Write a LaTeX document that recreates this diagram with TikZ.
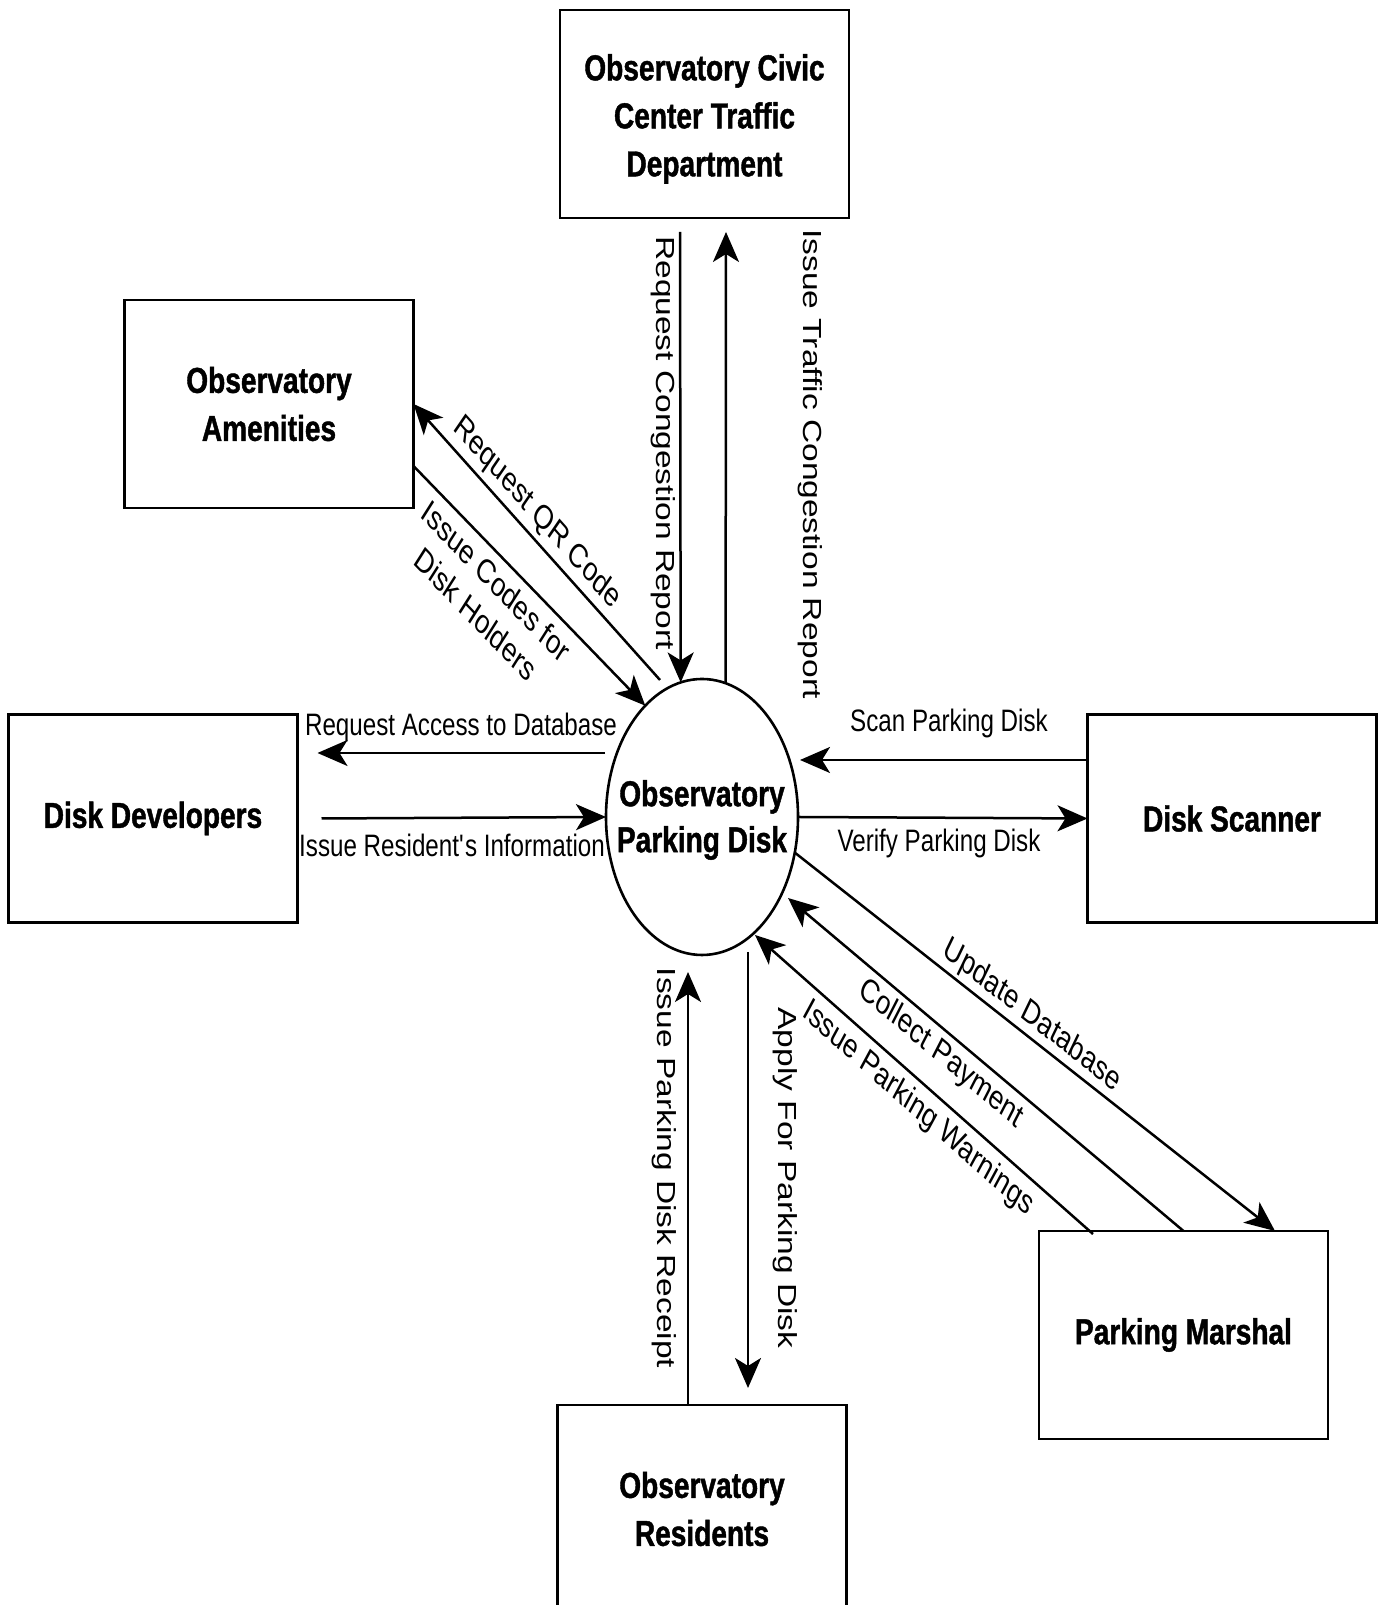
\documentclass[tikz,border=0pt]{standalone}
\usepackage{fontspec}
\usepackage{graphicx}
\usetikzlibrary{arrows.meta,shapes.geometric}
\newfontfamily\hfont[FakeStretch=0.78]{Liberation Sans}
\newfontfamily\bfnt[FakeStretch=0.78,FakeBold=1.2]{Liberation Sans Bold}
\newfontfamily\rfont{Liberation Sans}
\newcommand\rlab[2]{\scalebox{0.78}[1]{\rotatebox{#1}{\rfont\fontsize{33.5}{38}\selectfont #2}}}
\begin{document}
\begin{tikzpicture}[x=1pt,y=1pt,
  box/.style={draw,line width=2.6pt,rectangle,minimum width=289pt,minimum height=208pt,inner sep=0pt,outer sep=0pt,align=center,font=\bfnt\fontsize{36}{48}\selectfont},
  btxt/.style={inner sep=0pt,align=center,font=\bfnt\fontsize{36}{48}\selectfont},
  arr/.style={line width=2.5pt,-{Stealth[length=30pt,width=26pt,inset=8pt]}},
  hlab/.style={inner sep=0pt,font=\hfont\fontsize{31}{36}\selectfont},
  vlab/.style={inner sep=0pt}]
\fill[white] (0,0) rectangle (1383,1605);
\useasboundingbox (0,0) rectangle (1383,1605);
% boxes
\node[box] (top) at (704.5,1491) {};
\node[btxt] (toptxt) at (704.5,1486) {Observatory Civic\\Center Traffic\\Department};
\node[box] (amen) at (269,1201) {Observatory\\Amenities};
\node[box] (dev) at (153,786.5) {Disk Developers};
\node[box] (scan) at (1232,786.5) {Disk Scanner};
\node[box] (marsh) at (1183.5,270) {Parking Marshal};
\node[box] (res) at (702,96) {Observatory\\Residents};
\node[ellipse,draw,line width=2.6pt,minimum width=192pt,minimum height=276pt,inner sep=0pt,outer sep=0pt] (ell) at (702,788) {};
\node[inner sep=0pt,align=center,font=\bfnt\fontsize{36}{46}\selectfont] (elltxt) at (702,785) {Observatory\\Parking Disk};
% connectors
\draw[arr] ([shift={(-24.5,-14)}]top.south) -- (ell.99);
\draw[arr] (ell.80) -- ([shift={(21.5,-14)}]top.south);
\draw[arr] ([shift={(-42,137)}]ell.center) -- (amen.east);
\draw[arr] ([yshift=-62pt]amen.east) -- (ell.117);
\draw[arr] ([shift={(-97,64)}]ell.center) -- ([shift={(20,65.5)}]dev.east);
\draw[arr] ([xshift=24pt]dev.east) -- (ell.west);
\draw[arr] ([yshift=58.5pt]scan.west) -- ([shift={(98,57)}]ell.center);
\draw[arr] (ell.east) -- (scan.west);
\draw[arr] (ell.339) -- ([xshift=91.5pt]marsh.north);
\draw[arr] (marsh.north) -- ([shift={(86,-81)}]ell.center);
\draw[arr] ([shift={(-90.5,-3)}]marsh.north) -- ([shift={(53,-118)}]ell.center);
\draw[arr] ([xshift=-14pt]res.north) -- ([shift={(-14,-155)}]ell.center);
\draw[arr] ([shift={(46,-135)}]ell.center) -- ([shift={(46,17)}]res.north);
% labels
\node[hlab] (lAcc) at (461,878) {Request Access to Database};
\node[hlab] (lRes) at (452,760) {Issue Resident\textquotesingle s Information};
\node[hlab] (lScan) at (949,882) {Scan Parking Disk};
\node[hlab] (lVer) at (939,762) {Verify Parking Disk};
\node[vlab] (lRCR) at (663,1162) {\rlab{-90}{Request Congestion Report}};
\node[vlab] (lITCR) at (810,1141) {\rlab{-90}{Issue Traffic Congestion Report}};
\node[vlab] (lQR) at (537,1092) {\rlab{-41.2}{Request QR Code}};
\node[vlab] (lCodes) at (484,1004) {\rlab{-39.1}{\begin{tabular}{@{}c@{}}Issue Codes for\\[4pt]Disk Holders\end{tabular}}};
\node[vlab] (lUpd) at (1032,589) {\rlab{-31.7}{Update Database}};
\node[vlab] (lCol) at (941,551) {\rlab{-33.3}{Collect Payment}};
\node[vlab] (lWarn) at (918,496) {\rlab{-34.7}{Issue Parking Warnings}};
\node[vlab] (lRec) at (664,437) {\rlab{-90}{Issue Parking Disk Receipt}};
\node[vlab] (lApp) at (785,427) {\rlab{-90}{Apply For Parking Disk}};
\end{tikzpicture}
\end{document}
